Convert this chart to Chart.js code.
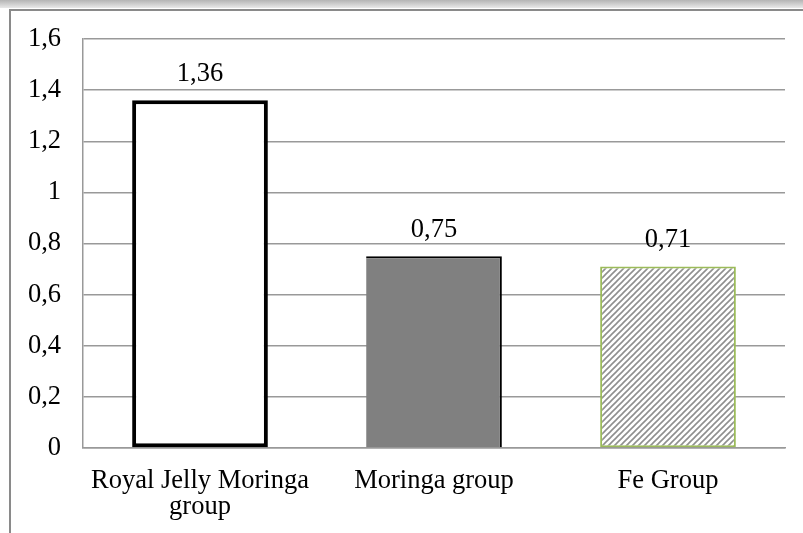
<!DOCTYPE html>
<html>
<head>
<meta charset="utf-8">
<script src="https://cdn.jsdelivr.net/npm/chart.js@4.4.1/dist/chart.umd.min.js"></script>
<style>
  body { margin: 0; background: #fff; width: 803px; height: 533px; overflow: hidden; position: relative; }
  #topband { position: absolute; left: 0; top: 0; width: 803px; height: 8px;
             background: linear-gradient(#b4b4b4, #e8e8e8); }
  #frame { position: absolute; left: 9px; top: 9px; width: 820px; height: 560px;
           border-left: 2px solid #8a8a8a; border-top: 2px solid #8a8a8a; }
  #wrap { position: absolute; left: 11px; top: 11px; width: 792px; height: 522px; }
</style>
</head>
<body>
<div id="topband"></div>
<div id="frame"></div>
<div id="wrap"><canvas id="chart" width="792" height="522"></canvas></div>
<script>
// data
const groups = [["Royal Jelly Moringa", "group"], "Moringa group", "Fe Group"];
const values = [1.36, 0.75, 0.71];
const yTicks = [0, 0.2, 0.4, 0.6, 0.8, 1, 1.2, 1.4, 1.6];

const serif = '"Liberation Serif", "Times New Roman", serif';

// hatch pattern for the Fe bar
function hatch() {
    const c = document.createElement('canvas');
    c.width = 6; c.height = 6;
    const g = c.getContext('2d');
    g.fillStyle = '#fff';
    g.fillRect(0, 0, 6, 6);
    g.strokeStyle = '#8f8f8f';
    g.lineWidth = 1.6;
    g.beginPath();
    g.moveTo(-1, 7); g.lineTo(7, -1);
    g.moveTo(-1, 1); g.lineTo(1, -1);
    g.moveTo(5, 7); g.lineTo(7, 5);
    g.stroke();
    return g.createPattern(c, 'repeat');
}

const fmt = v => String(v).replace('.', ',');

// value labels above bars
const valueLabels = {
    id: 'valueLabels',
    afterDatasetsDraw(chart) {
        const ctx = chart.ctx;
        const meta = chart.getDatasetMeta(0);
        ctx.save();
        ctx.font = '26.5px ' + serif;
        ctx.fillStyle = '#000';
        ctx.textAlign = 'center';
        ctx.textBaseline = 'middle';
        meta.data.forEach((bar, i) => {
            ctx.fillText(fmt(values[i]), bar.x, bar.y - 26);
        });
        ctx.restore();
    }
};

const ctx = document.getElementById('chart').getContext('2d');
const chart = new Chart(ctx, {
    type: 'bar',
    data: {
        labels: groups,
        datasets: [{
            data: values,
            backgroundColor: ['#ffffff', '#808080', hatch()],
            borderColor: ['#000000', '#000000', '#9bbb59'],
            borderWidth: [4, { top: 2, right: 2, left: 0, bottom: 0 }, 2],
            borderSkipped: false,
            barPercentage: 0.58,
            categoryPercentage: 1
        }]
    },
    options: {
        responsive: false,
        animation: false,
        devicePixelRatio: 1,
        layout: { padding: { top: 28, right: 18, bottom: 0, left: 0 } },
        plugins: { legend: { display: false }, tooltip: { enabled: false } },
        scales: {
            x: {
                grid: { display: false },
                border: { display: true, color: '#999', width: 1.5 },
                ticks: {
                    color: '#000',
                    padding: 12,
                    maxRotation: 0,
                    autoSkip: false,
                    font: { family: serif, size: 26.5, lineHeight: 0.98 }
                },
                afterFit: s => { s.height = 85; }
            },
            y: {
                min: 0,
                max: 1.6,
                afterBuildTicks: s => { s.ticks = yTicks.map(v => ({ value: v })); },
                grid: { color: '#999', lineWidth: 1.5, drawTicks: false },
                border: { display: true, color: '#999', width: 1.5 },
                ticks: {
                    color: '#000',
                    padding: 22,
                    autoSkip: false,
                    callback: v => fmt(v),
                    font: { family: serif, size: 26.5 }
                },
                afterFit: s => { s.width = 72; s.paddingTop = 0; s.paddingBottom = 0; }
            }
        }
    },
    plugins: [valueLabels]
});
</script>
</body>
</html>
